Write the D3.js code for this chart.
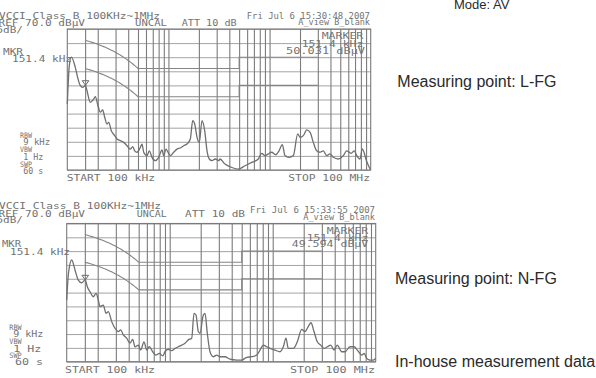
<!DOCTYPE html>
<html><head><meta charset="utf-8">
<script src="https://cdn.jsdelivr.net/npm/d3@7"></script>
<style>
html,body{margin:0;padding:0;background:#fff;overflow:hidden}
svg{display:block}
.mono{font-family:"DejaVu Sans Mono",monospace;fill:#737373}
.sans{font-family:"Liberation Sans",Arial,sans-serif;fill:#2a2a2a}
</style></head>
<body>
<script>
// ---- data ----
const freqGrid = [0.15,0.2,0.3,0.4,0.5,0.6,0.7,0.8,0.9,1,2,3,4,5,6,7,8,9,10,20,30,40,50,60,70,80,90];
const levelTicks = [20,25,30,35,40,45,50,55,60,65,70];
const limitFreq = [0.15,0.5,5,5,30];
const limitQP = [66,56,56,60,60];
const limitAV = [56,46,46,50,50];
const markerFreq = 0.1514;
const markerLevelTop = 50.031;
const markerLevelBot = 49.594;

const topFreq = [0.1,0.1047,0.1095,0.120,0.1276,0.1345,0.142,0.1514,0.1566,0.1688,0.1824,0.1892,0.2012,0.2120,0.2239,0.2343,0.2470,0.2567,0.2724,0.2943,0.3101,0.3344,0.3612,0.3894,0.4198,0.4434,0.4640,0.4890,0.5271,0.5479,0.5695,0.6140,0.6469,0.6879,0.7418,0.8014,0.8641,0.8981,0.9462,0.990,1.044,1.128,1.215,1.310,1.416,1.526,1.646,1.738,1.819,1.917,2.020,2.148,2.284,2.407,2.536,2.697,2.908,3.141,3.236,3.626,4.223,4.909,5.716,6.659,7.740,8.361,9.016,9.719,10.50,11.50,12.40,13.37,14.21,15.57,17.17,18.98,20.00,21.57,23.30,25.11,27.07,29.26,31.54,34.00,36.73,39.59,42.69,47.84,53.61,57.92,63.88,68.87,72.74,78.43,82.61,91.34,99.0];
const topLevel = [43.4,57,60,56.4,52.3,49.9,49.3,50.0,48.1,44,45.2,46,42.8,40.5,41.3,38.7,36.3,36.9,33.9,32.2,31,30.4,29.8,28.6,27.4,28.3,26.8,26.3,28,29.2,26.3,25.1,26.8,24.5,23.3,24.5,27.1,25.1,27.4,26.3,25.1,26.3,27.4,27.8,28.6,29.2,31,37.5,36.3,31.6,29.8,37.5,33.9,26.8,23.9,23.3,23.9,23.3,23.9,22.1,20.9,20.3,21.5,22.7,23.9,25.9,25.1,25.7,26.3,25.4,26.8,29,25.1,24.5,25.1,32.8,31.6,32.2,34.2,33.4,29.8,26.8,26.3,26.8,25.1,25.7,24.5,23.9,25.1,26.8,25.9,26.8,25.1,23.9,27.5,23,20.2];

const botFreq = [0.1,0.1041,0.1118,0.1204,0.1296,0.1398,0.1514,0.1585,0.1684,0.1813,0.1926,0.2027,0.2105,0.2266,0.2407,0.2535,0.2735,0.2944,0.3170,0.3345,0.3544,0.3824,0.4117,0.4373,0.4603,0.4957,0.5229,0.5629,0.5980,0.6339,0.6839,0.7362,0.7925,0.8551,0.9002,0.9692,1.046,1.126,1.212,1.308,1.408,1.516,1.636,1.722,1.800,1.896,1.969,2.120,2.202,2.317,2.462,2.651,2.861,3.078,3.443,3.849,4.472,5.000,5.592,6.253,6.992,7.528,8.102,8.744,9.415,10.53,11.77,12.68,13.46,14.17,15.85,17.34,19.12,20.59,21.68,23.54,25.18,27.10,29.24,31.49,33.89,36.57,39.37,42.39,46.77,50.34,56.30,61.56,66.29,73.12,77.52,81.77,88.05,94.78,100];
const botLevel = [42.3,52,56.8,53.2,49.5,48.5,49.6,47.1,45.3,43.5,44.7,42.3,39.9,40.5,37.5,38.1,34.5,32.1,30.9,31.5,29.7,28.5,26.7,28.1,25.4,26,24.2,27.2,24.2,25.4,23.6,22.4,23,22.1,23.6,24.5,24,24.8,25.4,26,26.7,27.9,28.5,37.5,36.9,30.9,30.3,36.9,37.5,30.3,23.6,21.8,22.4,21.8,21.8,20.9,20.6,20.6,21.6,21.8,22.4,24.2,26,25.4,24.8,24.2,23.6,25.4,28.5,24.8,24.8,27.2,31.7,30.9,32.1,34.1,30.9,27.2,26,24.8,25.4,26,24.2,26,23.6,23.6,25.4,25.4,24.2,22.4,23,21.2,20.6,20.6,21.2];

const topTexts = ["VCCI Class B 100KHz~1MHz","REF 70.0 dB\u00b5V","UNCAL","ATT 10 dB","5dB/","Fri Jul  6 15:30:48 2007","A_view B_blank","MKR","151.4 kHz","MARKER","151.4 kHz","50.031 dB\u00b5V","RBW","9 kHz","VBW","1 Hz","SWP","60 s","START 100 kHz","STOP 100 MHz"];
const botTexts = ["VCCI Class B 100KHz~1MHz","REF 70.0 dB\u00b5V","UNCAL","ATT 10 dB","5dB/","Fri Jul  6 15:33:55 2007","A_view B_blank","MKR","151.4 kHz","MARKER","151.4 kHz","49.594 dB\u00b5V","RBW","9 kHz","VBW","1 Hz","SWP","60 s","START 100 kHz","STOP 100 MHz"];
const sideTexts = ["Mode: AV","Measuring point: L-FG","Measuring point: N-FG","In-house measurement data"];

// ---- layout (positions only) ----
const W = 596, H = 378;
const svg = d3.select("body").append("svg").attr("width", W).attr("height", H);

// [x, baseline, width, fontSize]
const topTextPos = [[-1,18.5,161,9],[-1.5,26,86.5,9],[135,26,32,9],[181.7,26,55,9],[-3.5,32.5,26.5,9],
  [246.7,18.5,123.3,8],[298.3,25,71.7,8],[3,55,20,8],[12,61.5,60,9],[321.7,39,41.6,9],[301.7,46.5,61.6,9],[286,54,79,9],
  [20,137.5,12,7.5],[23.3,145,26.7,8],[20,152,12,7.5],[23.3,160,20,8],[20,167,12,7.5],[23.3,173.5,20,8],
  [66.7,180.7,88.3,9],[288.3,180.7,81.7,9]];
const botTextPos = [[-1,208.5,162,9],[-1.5,216.5,86.5,9],[136.7,216.5,30,9],[185,216.5,60,9],[-3.5,223,26.5,9],
  [250,213.3,125,8],[303.3,220,71.7,8],[2,247.3,19,8],[10,255,60,9],[326.7,234,41.6,9],[306.7,240.7,61.6,9],[291.7,247.3,76.6,9],
  [9.3,330,12.4,7.5],[13.3,336.7,30,8],[9.3,344.3,12.4,7.5],[13.3,351.7,28,8],[9.3,358.3,12.4,7.5],[15,365,28,8],
  [65,372.7,90,9],[290,372.7,85,9]];
const sidePos = [[454,9.3,13],[397.3,87.3,16],[395,284,16],[395,367.3,16]];

function drawPanel(box, freq, level, mLevel, texts, pos) {
  const x = d3.scaleLog().domain([0.1,100]).range([box.x0, box.x1]);
  const y = d3.scaleLinear().domain([20,70]).range([box.y1, box.y0]);
  const g = svg.append("g");
  // horizontal grid via axis
  g.append("g").attr("transform", `translate(${box.x0},0)`)
    .call(d3.axisLeft(y).tickValues(levelTicks).tickSize(-(box.x1-box.x0)).tickFormat(""))
    .call(s => s.select(".domain").remove())
    .selectAll("line").attr("stroke", "#999").attr("stroke-width", 0.9);
  // vertical grid via axis
  g.append("g").attr("transform", `translate(0,${box.y1})`)
    .call(d3.axisBottom(x).tickValues(freqGrid).tickSize(-(box.y1-box.y0)).tickFormat(""))
    .call(s => s.select(".domain").remove())
    .selectAll("line").attr("stroke", "#7c7c7c").attr("stroke-width", 1.1);
  // frame
  g.append("rect").attr("x", box.x0).attr("y", box.y0).attr("width", box.x1-box.x0).attr("height", box.y1-box.y0)
    .attr("fill", "none").attr("stroke", "#7a7a7a").attr("stroke-width", 1.1);
  // limits: the instrument joins limit points linearly in frequency, drawn on the log axis
  const limPath = (vals) => {
    const pts = [];
    for (let i = 0; i < limitFreq.length - 1; i++) {
      const f0 = limitFreq[i], f1 = limitFreq[i+1], v0 = vals[i], v1 = vals[i+1];
      const steps = (f0 === f1 || v0 === v1) ? 1 : 40;
      for (let k = 0; k <= steps; k++) {
        const t = k / steps;
        pts.push([x(f0 + (f1 - f0) * t), y(v0 + (v1 - v0) * t)]);
      }
    }
    return d3.line()(pts);
  };
  g.append("path").attr("d", limPath(limitQP)).attr("fill","none").attr("stroke","#858585").attr("stroke-width",1.1);
  g.append("path").attr("d", limPath(limitAV)).attr("fill","none").attr("stroke","#858585").attr("stroke-width",1.1);
  // trace
  const tr = d3.line().x((d,i)=>x(freq[i])).y(d=>y(d)).curve(d3.curveMonotoneX);
  g.append("path").attr("d", tr(level)).attr("fill","none").attr("stroke","#6f6f6f").attr("stroke-width",1.3)
    .attr("stroke-linejoin","round");
  // marker triangle
  const mx = x(markerFreq), my = y(mLevel);
  g.append("path").attr("d", `M${mx},${my} L${mx-3.3},${my-4.6} L${mx+3.3},${my-4.6} Z`)
    .attr("fill","none").attr("stroke","#6a6a6a").attr("stroke-width",1);
  // texts
  texts.forEach((t,i) => {
    const p = pos[i];
    g.append("text").attr("class","mono").attr("x", p[0]).attr("y", p[1])
      .attr("font-size", p[3]).attr("textLength", p[2]).attr("lengthAdjust","spacingAndGlyphs")
      .text(t);
  });
}

drawPanel({x0:67.3, x1:370.7, y0:29, y1:170}, topFreq, topLevel, markerLevelTop, topTexts, topTextPos);
drawPanel({x0:66.7, x1:375.7, y0:223.5, y1:361.7}, botFreq, botLevel, markerLevelBot, botTexts, botTextPos);

sideTexts.forEach((t,i) => {
  const p = sidePos[i];
  svg.append("text").attr("class","sans").attr("x", p[0]).attr("y", p[1]).attr("font-size", p[2]).text(t);
});
</script>
</body></html>
